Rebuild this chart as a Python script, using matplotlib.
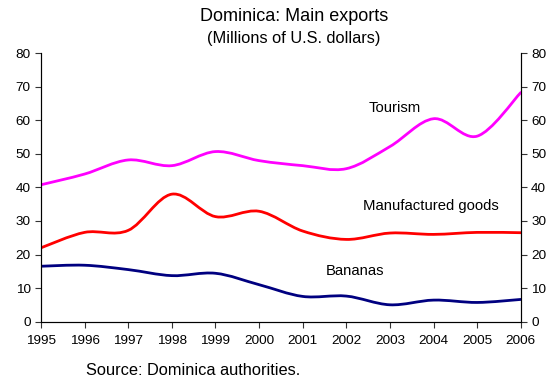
import numpy as np
import matplotlib.pyplot as plt
from matplotlib.path import Path
from matplotlib.patches import PathPatch

plt.rcParams['font.family'] = ['Liberation Sans', 'DejaVu Sans']

years = [1995, 1996, 1997, 1998, 1999, 2000, 2001, 2002, 2003, 2004, 2005, 2006]
tourism = [40.8, 44.0, 48.2, 46.5, 50.7, 48.0, 46.5, 45.6, 52.2, 60.5, 55.3, 68.3]
manufactured = [22.0, 26.6, 27.2, 38.0, 31.3, 32.9, 27.0, 24.5, 26.4, 26.0, 26.6, 26.5]
bananas = [16.5, 16.8, 15.5, 13.7, 14.4, 11.0, 7.5, 7.6, 5.0, 6.4, 5.7, 6.6]


def smooth_path(x, y):
    # cubic Bezier segments through every point (Catmull-Rom style tangents)
    x = np.asarray(x, float)
    y = np.asarray(y, float)
    pts = np.column_stack([x, y])
    n = len(pts)
    verts = [pts[0]]
    codes = [Path.MOVETO]
    for i in range(n - 1):
        p0 = pts[max(i - 1, 0)]
        p1 = pts[i]
        p2 = pts[i + 1]
        p3 = pts[min(i + 2, n - 1)]
        c1 = p1 + (p2 - p0) / 6.0
        c2 = p2 - (p3 - p1) / 6.0
        verts += [c1, c2, p2]
        codes += [Path.CURVE4] * 3
    return Path(verts, codes)


fig = plt.figure(figsize=(5.54, 3.81), dpi=100)
ax = fig.add_axes([0.074, 0.156, 0.866, 0.704])

for vals, col in [(tourism, '#FF00FF'), (manufactured, '#FF0000'), (bananas, '#000080')]:
    ax.add_patch(PathPatch(smooth_path(years, vals), facecolor='none',
                           edgecolor=col, lw=2.0, capstyle='round'))

ax.set_xlim(1995, 2006)
ax.set_ylim(0, 80)
ax.set_xticks(years)
ax.set_yticks(range(0, 81, 10))
ax.tick_params(labelsize=9.7, length=4, width=0.8, color='#333333')
ax.tick_params(axis='x', pad=6)
ax.spines['top'].set_visible(False)
for s in ['left', 'right', 'bottom']:
    ax.spines[s].set_linewidth(0.8)
    ax.spines[s].set_color('#333333')

ax2 = ax.twinx()
ax2.set_ylim(0, 80)
ax2.set_yticks(range(0, 81, 10))
ax2.tick_params(labelsize=9.7, length=4, width=0.8, color='#333333')
ax2.spines['top'].set_visible(False)

ax.text(2003.1, 63.6, 'Tourism', ha='center', va='center', fontsize=10.7)
ax.text(2003.93, 34.6, 'Manufactured goods', ha='center', va='center', fontsize=10.7)
ax.text(2002.19, 15.2, 'Bananas', ha='center', va='center', fontsize=10.7)

fig.text(0.531, 0.958, 'Dominica: Main exports', ha='center', va='center', fontsize=13)
fig.text(0.530, 0.900, '(Millions of U.S. dollars)', ha='center', va='center', fontsize=11.8)
fig.text(0.156, 0.028, 'Source: Dominica authorities.', ha='left', va='center', fontsize=11.75)

fig.savefig('out.png', dpi=100)
